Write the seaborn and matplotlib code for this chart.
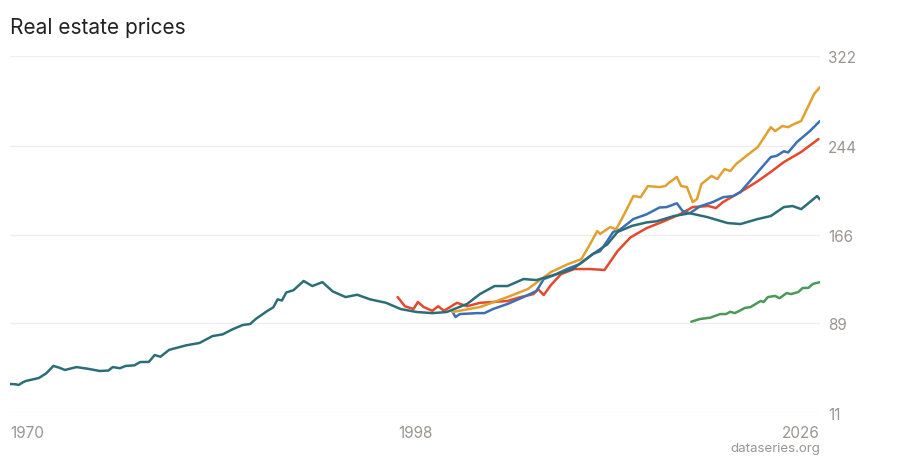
import pandas as pd
import matplotlib.pyplot as plt
import seaborn as sns

# series (year, index value)
teal_years = [1970, 1970.4, 1970.6, 1970.9, 1971.1, 1972, 1972.5, 1973, 1973.4, 1973.8,
              1974.6, 1975.4, 1976.2, 1976.8, 1977.1, 1977.6, 1978, 1978.6, 1979, 1979.6,
              1980, 1980.4, 1981, 1981.6, 1982.2, 1983.1, 1984, 1984.7, 1985.4, 1986.1,
              1986.6, 1987, 1987.8, 1988.2, 1988.5, 1988.8, 1989.1, 1989.6, 1990.3, 1990.9,
              1991.6, 1992.3, 1993.2, 1994, 1994.9, 1996, 1997, 1998.1, 1999.2, 2000.2,
              2001.6, 2002.5, 2003.5, 2004.4, 2005.5, 2006.4, 2007.8, 2008.9, 2010.3, 2011.3,
              2012, 2013, 2014, 2014.7, 2015.9, 2017, 2018.2, 2019.6, 2020.5, 2021.7,
              2022.6, 2023.5, 2024.1, 2024.7, 2025.3, 2025.8, 2026]
teal_vals = [36.3, 36.0, 35.4, 37.8, 38.9, 41.5, 45.5, 52.0, 50.5, 48.5,
             51.0, 49.5, 47.6, 48.0, 51.0, 50.0, 52.0, 52.5, 55.4, 55.5,
             61.5, 60.0, 66.0, 68.0, 70.0, 72.0, 78.0, 79.5, 84.0, 87.7,
             88.5, 93.0, 100.0, 103.0, 110.0, 109.0, 116.0, 118.0, 126.0, 121.6,
             125.0, 117.0, 112.0, 114.0, 110.0, 107.0, 101.6, 99.0, 98.0, 99.0,
             106.0, 114.7, 121.6, 121.6, 127.7, 126.8, 132.0, 136.4, 149.5, 158.0,
             168.7, 174.0, 177.0, 178.0, 182.6, 185.0, 181.7, 176.5, 175.6, 180.0,
             182.6, 190.4, 191.3, 188.6, 194.8, 200.0, 197.0]

red_years = [1996.8, 1997.3, 1997.9, 1998.2, 1998.6, 1999.2, 1999.6, 2000.0, 2000.9, 2001.6,
             2002.5, 2003.4, 2004.4, 2005.3, 2006.2, 2006.5, 2006.9, 2007.4, 2008.1, 2009,
             2010.1, 2011.1, 2012, 2012.9, 2014, 2015.2, 2016.3, 2017.2, 2018.3, 2018.8,
             2019.3, 2020.5, 2021.7, 2022.6, 2023.5, 2024.7, 2025.9]
red_vals = [112.0, 104.0, 101.6, 107.7, 103.3, 100.0, 104.0, 100.0, 107.0, 104.0,
            107.0, 107.7, 108.6, 112.0, 114.6, 119.0, 113.8, 122.5, 132.0, 136.4,
            136.4, 135.6, 152.0, 164.0, 172.0, 178.0, 184.0, 190.4, 191.3, 189.5,
            194.8, 203.5, 213.0, 221.0, 229.6, 238.4, 249.7]

yellow_years = [2000.6, 2002.5, 2004.4, 2005.8, 2007.4, 2008.6, 2009.5, 2010.1, 2010.6, 2010.8,
                2011.5, 2011.9, 2012.4, 2013.1, 2013.6, 2014.1, 2014.9, 2015.3, 2015.6,
                2016.1, 2016.4, 2016.8, 2017.2, 2017.5, 2017.8, 2018.5, 2018.9, 2019.4,
                2019.8, 2020.2, 2020.9, 2021.7, 2022.6, 2022.9, 2023.4, 2023.8, 2024.2,
                2024.7, 2025.2, 2025.6, 2026]
yellow_vals = [99.0, 103.3, 112.0, 119.0, 133.8, 140.8, 145.0, 158.0, 169.5, 167.0,
               173.0, 171.0, 182.6, 200.0, 199.0, 208.7, 207.8, 208.7, 212.0,
               216.6, 208.7, 207.8, 194.8, 197.4, 210.5, 217.5, 214.8, 223.5,
               221.8, 227.9, 234.9, 242.7, 260.0, 256.6, 261.0, 260.0, 262.7,
               265.4, 278.5, 289.0, 295.0]

blue_years = [2000.6, 2000.8, 2001.1, 2002.3, 2002.8, 2003.4, 2004.4, 2005.5, 2006.4, 2006.9,
              2007.6, 2008.5, 2009.4, 2010.3, 2010.8, 2011.3, 2011.7, 2012.2, 2013.1, 2014,
              2014.9, 2015.4, 2016.1, 2016.5, 2017, 2017.7, 2018.6, 2019.3, 2020, 2020.5,
              2021.4, 2022.6, 2023, 2023.5, 2023.8, 2024.4, 2025.3, 2026]
blue_vals = [99.0, 94.6, 97.2, 98.0, 98.0, 101.6, 106.0, 112.0, 117.3, 127.7,
             131.0, 136.4, 140.8, 149.5, 152.0, 161.0, 168.7, 171.0, 180.0, 184.0,
             190.0, 190.4, 193.7, 187.0, 185.0, 191.0, 194.8, 199.0, 200.0, 203.5,
             216.6, 234.0, 235.0, 239.0, 238.0, 247.0, 256.6, 265.4]

green_years = [2017.1, 2017.7, 2018.4, 2019.1, 2019.5, 2019.8, 2020.1, 2020.4, 2020.8, 2021.2,
               2021.9, 2022.1, 2022.4, 2022.9, 2023.2, 2023.7, 2024.0, 2024.5, 2024.8,
               2025.2, 2025.5, 2026]
green_vals = [90.5, 92.9, 94.0, 97.2, 97.2, 99.2, 98.0, 99.8, 102.5, 103.3,
              108.6, 107.7, 112.0, 113.0, 111.0, 115.5, 114.6, 116.4, 119.9,
              120.0, 123.4, 125.0]

y_ticks = [11, 89, 166, 244, 322]
x_ticks = [1970, 1998, 2026]

colors = {
    'teal': '#2c6e78',
    'red': '#e4492e',
    'yellow': '#e1a131',
    'blue': '#3b70b4',
    'green': '#4b9858',
}

frames = []
for name, xs, ys in [('teal', teal_years, teal_vals), ('red', red_years, red_vals),
                     ('yellow', yellow_years, yellow_vals), ('blue', blue_years, blue_vals),
                     ('green', green_years, green_vals)]:
    frames.append(pd.DataFrame({'year': xs, 'value': ys, 'series': name}))
df = pd.concat(frames, ignore_index=True)

sns.set_style('white')
plt.rcParams['font.family'] = ['Inter', 'DejaVu Sans']

fig = plt.figure(figsize=(9, 4.6), dpi=100)
ax = fig.add_axes([10 / 900, 1 - 414 / 460, 810 / 900, 357 / 460])

# draw order: teal drawn last so it sits on top
order = ['green', 'red', 'blue', 'yellow', 'teal']
for name in order:
    sub = df[df['series'] == name]
    sns.lineplot(data=sub, x='year', y='value', color=colors[name], linewidth=1.8,
                 estimator=None, sort=False, ax=ax, legend=False)

ax.set_xlim(1970, 2026)
ax.set_ylim(11, 322)
ax.set_xlabel('')
ax.set_ylabel('')
for s in ax.spines.values():
    s.set_visible(False)

ax.set_yticks(y_ticks)
ax.yaxis.tick_right()
ax.grid(axis='y', color='#eeeeee', linewidth=1)
ax.grid(axis='x', visible=False)
ax.tick_params(axis='y', length=0, pad=6, labelsize=11, labelcolor='#9a9590')
ax.set_xticks([])

# x tick labels: first left-aligned, middle centred, last right-aligned
aligns = ['left', 'center', 'right']
for yr, ha in zip(x_ticks, aligns):
    ax.text(yr, -0.035, str(yr), transform=ax.get_xaxis_transform(), ha=ha, va='top',
            fontsize=11, color='#9a9590')

fig.text(10 / 900, 1 - 28 / 460, 'Real estate prices', ha='left', va='center',
         fontsize=15, color='#222222')
fig.text(820 / 900, 1 - 449 / 460, 'dataseries.org', ha='right', va='center',
         fontsize=9.6, color='#9a9590')

fig.savefig('out.png', dpi=100)
